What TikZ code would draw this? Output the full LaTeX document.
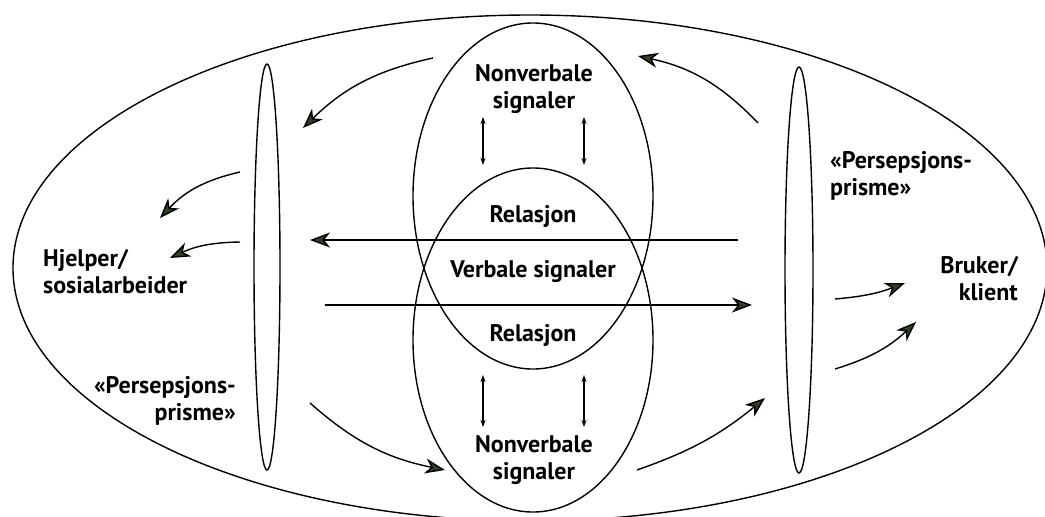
\documentclass[tikz,border=0pt]{standalone}
\usepackage{fontspec}
\setmainfont{PT Sans}
\usetikzlibrary{arrows.meta}

\definecolor{tipgreen}{RGB}{50,64,34}

\tikzset{
    lbl/.style={font=\fontsize{24}{27}\selectfont\bfseries, inner sep=0pt},
    outline/.style={line width=1.4pt},
    flow/.style={line width=1.4pt, -{Stealth[length=20pt,width=15pt,inset=6pt,fill=tipgreen]}},
    twoway/.style={line width=1.2pt, {Stealth[length=7pt,width=5pt]}-{Stealth[length=7pt,width=5pt]}},
}

\begin{document}
\begin{tikzpicture}[x=1pt, y=-1pt]
    \useasboundingbox (0,0) rectangle (1045,517);

    \draw[outline] (530,268) ellipse [x radius=517, y radius=253];
    \draw[outline] (267,267) ellipse [x radius=13, y radius=203];
    \draw[outline] (799,270) ellipse [x radius=14, y radius=203];
    \draw[outline] (533,196) ellipse [x radius=120, y radius=173];
    \draw[outline] (533,340) ellipse [x radius=120, y radius=172];

    \node[lbl, align=center] (nvtop) at (534,89) {Nonverbale\\signaler};
    \node[lbl] (reltop) at (533,216) {Relasjon};
    \node[lbl] (verbal) at (533,272) {Verbale signaler};
    \node[lbl] (relbot) at (533,335) {Relasjon};
    \node[lbl, align=center] (nvbot) at (534,460) {Nonverbale\\signaler};
    \node[lbl, align=left, anchor=west] (hjelper) at (43,272) {Hjelper/\\sosialarbeider};
    \node[lbl, align=right, anchor=east] (prismL) at (236,401) {«Persepsjons-\\prisme»};
    \node[lbl, align=left, anchor=west] (prismR) at (830,176) {«Persepsjons-\\prisme»};
    \node[lbl, align=right, anchor=east] (bruker) at (1018,279) {Bruker/\\klient};

    % flow arrows
    \coordinate (tr1) at (758,123);  \coordinate (tr2) at (638,56);
    \coordinate (tl1) at (433,58);   \coordinate (tl2) at (303,128);
    \coordinate (la1) at (240,172);  \coordinate (la2) at (160,218);
    \coordinate (lb1) at (240,242);  \coordinate (lb2) at (170,258);
    \coordinate (hl1) at (738,240);  \coordinate (hl2) at (310,240);
    \coordinate (hr1) at (325,305);  \coordinate (hr2) at (752,305);
    \coordinate (bl1) at (310,403);  \coordinate (bl2) at (445,470);
    \coordinate (br1) at (637,470);  \coordinate (br2) at (765,398);
    \coordinate (ra1) at (835,299);  \coordinate (ra2) at (905,283);
    \coordinate (rb1) at (835,369);  \coordinate (rb2) at (916,322);

    \draw[flow] (tr1) to[bend right=17] (tr2);
    \draw[flow] (tl1) to[bend right=16] (tl2);
    \draw[flow] (la1) to[bend right=17] (la2);
    \draw[flow] (lb1) to[bend right=12] (lb2);
    \draw[flow] (hl1) -- (hl2);
    \draw[flow] (hr1) -- (hr2);
    \draw[flow] (bl1) to[bend right=15] (bl2);
    \draw[flow] (br1) to[bend right=10] (br2);
    \draw[flow] (ra1) to[bend right=8] (ra2);
    \draw[flow] (rb1) to[bend right=13] (rb2);

    % double arrows
    \draw[twoway] (483,117) -- (483,165);
    \draw[twoway] (584,117) -- (584,165);
    \draw[twoway] (483,375) -- (483,427);
    \draw[twoway] (584,375) -- (584,427);
\end{tikzpicture}
\end{document}
